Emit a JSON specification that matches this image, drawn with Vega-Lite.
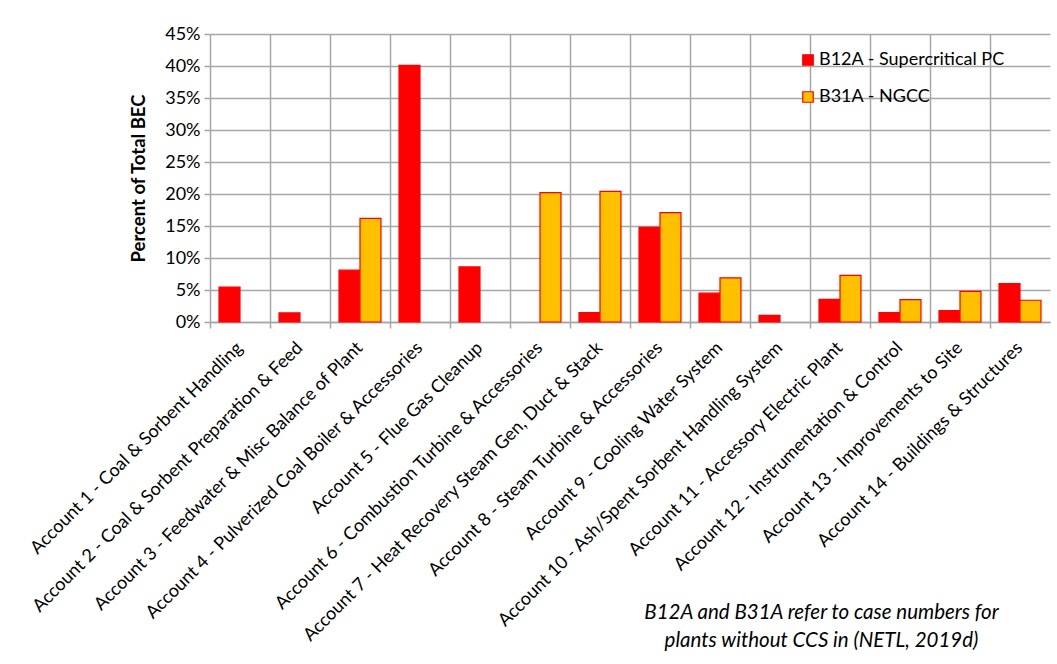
{
  "$schema": "https://vega.github.io/schema/vega-lite/v6.json",
  "width": 840,
  "height": 288,
  "autosize": "none",
  "padding": {"left": 210, "top": 34, "right": 7, "bottom": 342},
  "background": "white",
  "config": {
    "view": {"stroke": null},
    "font": "Lato",
    "axis": {"labelColor": "black", "titleColor": "black", "gridColor": "#a6a6a6", "gridWidth": 1.5, "tickColor": "#a6a6a6", "tickWidth": 1.5, "domainColor": "#a6a6a6", "domainWidth": 1.5}
  },
  "data": {
    "values": [
      {"account": "Account 1 - Coal & Sorbent Handling", "series": "B12A - Supercritical PC", "value": 0.0545},
      {"account": "Account 2 - Coal & Sorbent Preparation & Feed", "series": "B12A - Supercritical PC", "value": 0.0142},
      {"account": "Account 3 - Feedwater & Misc Balance of Plant", "series": "B12A - Supercritical PC", "value": 0.081},
      {"account": "Account 3 - Feedwater & Misc Balance of Plant", "series": "B31A - NGCC", "value": 0.162},
      {"account": "Account 4 - Pulverized Coal Boiler & Accessories", "series": "B12A - Supercritical PC", "value": 0.401},
      {"account": "Account 5 - Flue Gas Cleanup", "series": "B12A - Supercritical PC", "value": 0.086},
      {"account": "Account 6 - Combustion Turbine & Accessories", "series": "B31A - NGCC", "value": 0.202},
      {"account": "Account 7 - Heat Recovery Steam Gen, Duct & Stack", "series": "B12A - Supercritical PC", "value": 0.0145},
      {"account": "Account 7 - Heat Recovery Steam Gen, Duct & Stack", "series": "B31A - NGCC", "value": 0.204},
      {"account": "Account 8 - Steam Turbine & Accessories", "series": "B12A - Supercritical PC", "value": 0.148},
      {"account": "Account 8 - Steam Turbine & Accessories", "series": "B31A - NGCC", "value": 0.171},
      {"account": "Account 9 - Cooling Water System", "series": "B12A - Supercritical PC", "value": 0.045},
      {"account": "Account 9 - Cooling Water System", "series": "B31A - NGCC", "value": 0.069},
      {"account": "Account 10 - Ash/Spent Sorbent Handling System", "series": "B12A - Supercritical PC", "value": 0.0105},
      {"account": "Account 11 - Accessory Electric Plant", "series": "B12A - Supercritical PC", "value": 0.0355},
      {"account": "Account 11 - Accessory Electric Plant", "series": "B31A - NGCC", "value": 0.073},
      {"account": "Account 12 - Instrumentation & Control", "series": "B12A - Supercritical PC", "value": 0.0145},
      {"account": "Account 12 - Instrumentation & Control", "series": "B31A - NGCC", "value": 0.035},
      {"account": "Account 13 - Improvements to Site", "series": "B12A - Supercritical PC", "value": 0.018},
      {"account": "Account 13 - Improvements to Site", "series": "B31A - NGCC", "value": 0.048},
      {"account": "Account 14 - Buildings & Structures", "series": "B12A - Supercritical PC", "value": 0.06},
      {"account": "Account 14 - Buildings & Structures", "series": "B31A - NGCC", "value": 0.034}
    ]
  },
  "mark": {"type": "bar", "stroke": "#ff0000", "strokeWidth": 1.2},
  "encoding": {
    "x": {
      "field": "account",
      "type": "nominal",
      "sort": null,
      "scale": {"domain": [
        "Account 1 - Coal & Sorbent Handling",
        "Account 2 - Coal & Sorbent Preparation & Feed",
        "Account 3 - Feedwater & Misc Balance of Plant",
        "Account 4 - Pulverized Coal Boiler & Accessories",
        "Account 5 - Flue Gas Cleanup",
        "Account 6 - Combustion Turbine & Accessories",
        "Account 7 - Heat Recovery Steam Gen, Duct & Stack",
        "Account 8 - Steam Turbine & Accessories",
        "Account 9 - Cooling Water System",
        "Account 10 - Ash/Spent Sorbent Handling System",
        "Account 11 - Accessory Electric Plant",
        "Account 12 - Instrumentation & Control",
        "Account 13 - Improvements to Site",
        "Account 14 - Buildings & Structures"
      ], "paddingInner": 0, "paddingOuter": 0},
      "axis": {
        "title": ["B12A and B31A refer to case numbers for", "plants without CCS in (NETL, 2019d)"],
        "titleX": 611,
        "titleY": 280,
        "titleAlign": "center",
        "titleAnchor": null,
        "titleBaseline": "top",
        "titleFontSize": 20.5,
        "titleFontStyle": "italic",
        "titleFontWeight": "normal",
        "titleLineHeight": 28,
        "bandPosition": 0,
        "labelAngle": -45,
        "labelAlign": "right",
        "labelBaseline": "middle",
        "labelFontSize": 18,
        "labelPadding": 17,
        "labelLimit": 0,
        "labelOverlap": false,
        "grid": true,
        "ticks": true,
        "tickSize": 6,
        "domain": true
      }
    },
    "xOffset": {
      "field": "series",
      "type": "nominal",
      "scale": {"domain": ["B12A - Supercritical PC", "B31A - NGCC"], "paddingInner": 0, "paddingOuter": 0.43}
    },
    "y": {
      "field": "value",
      "type": "quantitative",
      "scale": {"domain": [0, 0.45], "nice": false},
      "axis": {
        "title": "Percent of Total BEC",
        "titleFontSize": 18.5,
        "titleFontWeight": "bold",
        "titlePadding": 16,
        "format": ".0%",
        "values": [0, 0.05, 0.1, 0.15, 0.2, 0.25, 0.3, 0.35, 0.4, 0.45],
        "labelFontSize": 18,
        "labelPadding": 4,
        "tickSize": 6,
        "domain": false,
        "grid": true
      }
    },
    "fill": {
      "field": "series",
      "type": "nominal",
      "scale": {"domain": ["B12A - Supercritical PC", "B31A - NGCC"], "range": ["#ff0000", "#ffc000"]},
      "legend": {
        "title": null,
        "orient": "none",
        "legendX": 589,
        "legendY": 17,
        "symbolType": "square",
        "symbolSize": 110,
        "symbolStrokeColor": "#ff0000",
        "symbolStrokeWidth": 1.2,
        "labelFontSize": 18,
        "labelColor": "black",
        "labelOffset": 2,
        "rowPadding": 19,
        "labelLimit": 0
      }
    }
  }
}
